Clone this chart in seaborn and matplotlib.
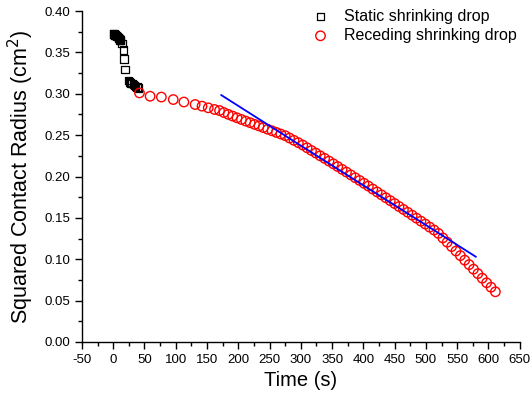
import matplotlib
matplotlib.use("Agg")
import matplotlib.pyplot as plt
import seaborn as sns
from matplotlib.ticker import MultipleLocator, FormatStrFormatter

sns.set_style("ticks")
plt.rcParams["font.family"] = ["Liberation Sans", "DejaVu Sans"]
plt.rcParams["axes.unicode_minus"] = False
plt.rcParams["text.color"] = "black"
plt.rcParams["axes.labelcolor"] = "black"

# Static shrinking drop (black squares)
static_t = [0, 1, 2, 3, 4, 5, 6, 7, 8, 9, 10, 11, 12, 14, 16, 17.5, 19,
            24, 26, 28, 30, 32, 34, 36, 38, 40]
static_r = [0.372, 0.372, 0.371, 0.371, 0.370, 0.370, 0.369, 0.369, 0.368,
            0.367, 0.366, 0.365, 0.364, 0.361, 0.353, 0.342, 0.329,
            0.316, 0.314, 0.313, 0.312, 0.311, 0.310, 0.309, 0.308, 0.307]

# Receding shrinking drop (red circles)
reced_t = [42, 59, 77, 96, 113, 131, 142, 152, 162,
           170, 177, 184, 191, 198, 205, 212, 219, 226, 233, 240, 247, 254,
           261, 268, 275, 282, 289, 296, 303, 310, 317, 324, 331, 338, 345,
           352, 359, 366, 373, 380, 387, 394, 401, 408, 415, 422, 429, 436,
           443, 450, 457, 464, 471, 478, 485, 492, 499, 506, 513, 520, 527,
           534, 541, 548, 555, 562, 569, 576, 583, 590, 597, 604, 611]
reced_r = [0.301, 0.297, 0.296, 0.293, 0.290, 0.287, 0.285, 0.283, 0.281,
           0.2797, 0.2773, 0.2751, 0.2730, 0.2709, 0.2689, 0.2669, 0.2650,
           0.2630, 0.2611, 0.2591, 0.2571, 0.2552, 0.2532, 0.2513, 0.2493,
           0.2465, 0.2437, 0.2409, 0.2380, 0.2347, 0.2314, 0.2283, 0.2250,
           0.2219, 0.2186, 0.2153, 0.2120, 0.2086, 0.2053, 0.2019, 0.1985,
           0.1952, 0.1918, 0.1884, 0.1848, 0.1813, 0.1778, 0.1743, 0.1708,
           0.1673, 0.1637, 0.1602, 0.1567, 0.1532, 0.1496, 0.1460, 0.1425,
           0.1388, 0.1353, 0.1312, 0.1258, 0.1206, 0.1153, 0.1099, 0.1044,
           0.0989, 0.0935, 0.0880, 0.0826, 0.0771, 0.0716, 0.0662, 0.0607]

# linear fit line (blue)
fit_t = [172.5, 580]
fit_r = [0.2985, 0.1029]

fig = plt.figure(figsize=(5.32, 4.0), dpi=100)
ax = fig.add_axes([0.154, 0.145, 0.823, 0.8275])

sns.scatterplot(x=static_t, y=static_r, marker="s", s=28, facecolors="none",
                edgecolor="black", linewidth=0.9, label="Static shrinking drop", ax=ax)
sns.scatterplot(x=reced_t, y=reced_r, marker="o", s=46, facecolors="none",
                edgecolor="red", linewidth=1.0, label="Receding shrinking drop", ax=ax)
sns.lineplot(x=fit_t, y=fit_r, color="blue", linewidth=1.3, ax=ax, legend=False)

ax.set_xlim(-50, 650)
ax.set_ylim(0, 0.40)
ax.xaxis.set_major_locator(MultipleLocator(50))
ax.xaxis.set_minor_locator(MultipleLocator(25))
ax.yaxis.set_major_locator(MultipleLocator(0.05))
ax.yaxis.set_minor_locator(MultipleLocator(0.025))
ax.yaxis.set_major_formatter(FormatStrFormatter("%.2f"))
ax.tick_params(which="major", direction="out", length=5, width=1, labelsize=9.5,
               colors="black")
ax.tick_params(which="minor", direction="out", length=3, width=1, colors="black")
for sp in ["left", "bottom"]:
    ax.spines[sp].set_linewidth(1)
    ax.spines[sp].set_color("black")
sns.despine(ax=ax)

ax.set_xlabel("Time (s)", fontsize=14.5)
ax.set_ylabel("Squared Contact Radius (cm$^2$)", fontsize=15.5, labelpad=6)

leg = ax.legend(loc="upper right", frameon=False, fontsize=11.5,
                bbox_to_anchor=(1.016, 1.035), handletextpad=0.5, borderaxespad=0.2,
                labelspacing=0.25)

fig.savefig("out.png", dpi=100)
